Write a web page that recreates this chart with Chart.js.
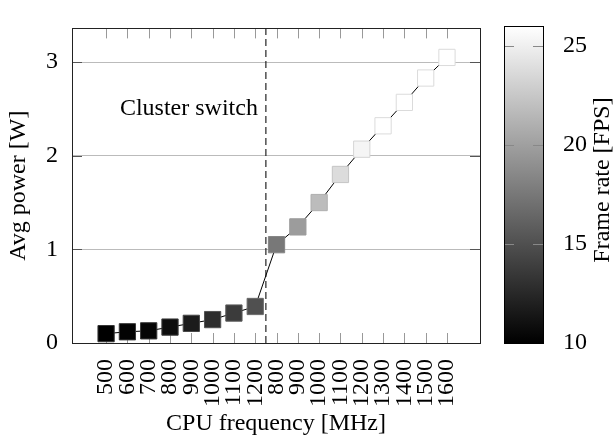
<!DOCTYPE html>
<html>
<head>
<meta charset="utf-8">
<script src="https://cdn.jsdelivr.net/npm/chart.js@4.4.0/dist/chart.umd.min.js"></script>
<style>
  html, body { margin: 0; padding: 0; background: #fff; }
  #wrap { position: relative; width: 616px; height: 441px; overflow: hidden; }
  #main { position: absolute; left: 0; top: 0; width: 500px; height: 441px; }
  #cbar { position: absolute; left: 490px; top: 0; width: 126px; height: 441px; }
</style>
</head>
<body>
<div id="wrap">
  <div id="main"><canvas id="power-chart"></canvas></div>
  <div id="cbar"><canvas id="fps-bar"></canvas></div>
</div>
<script>
// ─── DATA ────────────────────────────────────────────────────────────────────
const freqLabels = ["500", "600", "700", "800", "900", "1000", "1100", "1200",
                    "800", "900", "1000", "1100", "1200", "1300", "1400", "1500", "1600"];
const avgPower   = [0.10, 0.12, 0.13, 0.17, 0.21, 0.25, 0.32, 0.39,
                    1.05, 1.24, 1.50, 1.80, 2.07, 2.32, 2.57, 2.83, 3.05];
const frameRate  = [10.0, 10.2, 10.3, 10.8, 11.7, 12.8, 13.7, 15.0,
                    17.5, 19.8, 21.8, 23.8, 25.4, 26.0, 26.0, 26.0, 26.0];
const powerTicks = [0, 1, 2, 3];
const fpsTicks   = [10, 15, 20, 25];
const fpsMin = 10, fpsMax = 26;
const switchAt = 7.5;
const switchLabel = "Cluster switch";

const FONT = "'Liberation Serif', 'DejaVu Serif', serif";
const FSIZE = 24;

// ─── HELPERS ─────────────────────────────────────────────────────────────────
function grayFor(fps) {
    return Math.round(Math.max(0, Math.min(1, (fps - fpsMin) / (fpsMax - fpsMin))) * 255);
}
function fillFor(fps) { const g = grayFor(fps); return `rgb(${g},${g},${g})`; }
function edgeFor(fps) {
    const g = Math.round(grayFor(fps) * 0.65 + 153 * 0.35);
    return `rgb(${g},${g},${g})`;
}

// frame, inside ticks and annotation for the main plot
const framePlugin = {
    id: "frame",
    beforeDatasetsDraw(chart) {
        const { ctx, chartArea: a, scales: { x, y } } = chart;
        ctx.save();
        ctx.lineWidth = 1;
        // x ticks inside, bottom and top
        ctx.strokeStyle = "#999";
        freqLabels.forEach((_, i) => {
            const px = Math.round(x.getPixelForValue(i)) + 0.5;
            ctx.beginPath();
            ctx.moveTo(px, a.bottom); ctx.lineTo(px, a.bottom - 10);
            ctx.moveTo(px, a.top); ctx.lineTo(px, a.top + 10);
            ctx.stroke();
        });
        // y ticks inside, left and right
        ctx.strokeStyle = "#555";
        powerTicks.forEach(v => {
            const py = Math.round(y.getPixelForValue(v)) + 0.5;
            ctx.beginPath();
            ctx.moveTo(a.left, py); ctx.lineTo(a.left + 10, py);
            ctx.moveTo(a.right, py); ctx.lineTo(a.right - 10, py);
            ctx.stroke();
        });
        // box
        ctx.strokeStyle = "#222";
        ctx.strokeRect(Math.round(a.left) + 0.5, Math.round(a.top) + 0.5,
                       Math.round(a.right - a.left), Math.round(a.bottom - a.top));
        ctx.restore();
    },
    afterDatasetsDraw(chart) {
        const { ctx, scales: { x, y } } = chart;
        ctx.save();
        ctx.font = `${FSIZE}px ${FONT}`;
        ctx.fillStyle = "#000";
        ctx.textAlign = "right";
        ctx.textBaseline = "middle";
        ctx.fillText(switchLabel, x.getPixelForValue(switchAt) - 8, y.getPixelForValue(2.5));
        ctx.restore();
    }
};

// ─── MAIN CHART ──────────────────────────────────────────────────────────────
new Chart(document.getElementById("power-chart"), {
    type: "scatter",
    data: {
        datasets: [{
            data: avgPower.map((v, i) => ({ x: i, y: v })),
            showLine: true,
            borderColor: "#000",
            borderWidth: 1,
            pointStyle: "rect",
            pointRadius: 11.5,
            pointHoverRadius: 11.5,
            pointBackgroundColor: frameRate.map(fillFor),
            pointBorderColor: frameRate.map(edgeFor),
            pointBorderWidth: 1
        }, {
            data: [{ x: switchAt, y: 0 }, { x: switchAt, y: 3.36 }],
            showLine: true,
            borderColor: "#222",
            borderWidth: 1.2,
            borderDash: [7, 4],
            pointRadius: 0
        }]
    },
    options: {
        responsive: true,
        maintainAspectRatio: false,
        animation: false,
        layout: { padding: { top: 6, right: 20, left: 0, bottom: 0 } },
        plugins: { legend: { display: false }, tooltip: { enabled: false } },
        scales: {
            x: {
                type: "linear",
                min: -1.6,
                max: 17.55,
                afterBuildTicks: s => { s.ticks = freqLabels.map((_, i) => ({ value: i })); },
                afterFit: s => { s.height = 98; },
                grid: { display: false },
                border: { display: false },
                ticks: {
                    callback: v => freqLabels[v],
                    autoSkip: false,
                    maxRotation: 90,
                    minRotation: 90,
                    padding: 8,
                    color: "#000",
                    font: { family: FONT, size: FSIZE }
                },
                title: {
                    display: true,
                    text: "CPU frequency [MHz]",
                    color: "#000",
                    font: { family: FONT, size: FSIZE },
                    padding: { top: 0, bottom: 3 }
                }
            },
            y: {
                min: 0,
                max: 3.36,
                afterBuildTicks: s => { s.ticks = powerTicks.map(v => ({ value: v })); },
                afterFit: s => { s.width = 72; },
                grid: { color: "#bbb", drawTicks: false },
                border: { display: false },
                ticks: {
                    padding: 14,
                    color: "#000",
                    font: { family: FONT, size: FSIZE }
                },
                title: {
                    display: true,
                    text: "Avg power [W]",
                    color: "#000",
                    font: { family: FONT, size: FSIZE },
                    padding: { top: 4, bottom: 0 }
                }
            }
        }
    },
    plugins: [framePlugin]
});

// ─── COLOUR BAR ──────────────────────────────────────────────────────────────
const cbarPlugin = {
    id: "cbarDecor",
    afterDatasetsDraw(chart) {
        const { ctx, chartArea: a, scales: { y } } = chart;
        ctx.save();
        ctx.strokeStyle = "#888";
        ctx.lineWidth = 1;
        fpsTicks.forEach(v => {
            const py = Math.round(y.getPixelForValue(v)) + 0.5;
            ctx.beginPath();
            ctx.moveTo(a.left, py); ctx.lineTo(a.left + 10, py);
            ctx.moveTo(a.right, py); ctx.lineTo(a.right - 10, py);
            ctx.stroke();
        });
        ctx.strokeStyle = "#000";
        ctx.strokeRect(Math.round(a.left) + 0.5, Math.round(a.top) + 0.5,
                       Math.round(a.right - a.left), Math.round(a.bottom - a.top));
        ctx.font = `${FSIZE}px ${FONT}`;
        ctx.fillStyle = "#000";
        ctx.textAlign = "center";
        ctx.textBaseline = "middle";
        ctx.translate(113, 180);
        ctx.rotate(-Math.PI / 2);
        ctx.fillText("Frame rate [FPS]", 0, 0);
        ctx.restore();
    }
};

new Chart(document.getElementById("fps-bar"), {
    type: "bar",
    data: {
        labels: [""],
        datasets: [{
            data: [[fpsMin, fpsMax]],
            barPercentage: 1,
            categoryPercentage: 1,
            borderWidth: 0,
            backgroundColor: c => {
                const { chart } = c;
                if (!chart.chartArea) return "#888";
                const ys = chart.scales.y;
                const g = chart.ctx.createLinearGradient(0, ys.getPixelForValue(fpsMin), 0, ys.getPixelForValue(fpsMax));
                g.addColorStop(0, "#000");
                g.addColorStop(1, "#fff");
                return g;
            }
        }]
    },
    options: {
        responsive: true,
        maintainAspectRatio: false,
        animation: false,
        layout: { padding: { top: 6, left: 14, right: 0, bottom: 98 } },
        plugins: { legend: { display: false }, tooltip: { enabled: false } },
        scales: {
            x: { display: false },
            y: {
                position: "right",
                min: fpsMin,
                max: fpsMax,
                afterBuildTicks: s => { s.ticks = fpsTicks.map(v => ({ value: v })); },
                afterFit: s => { s.width = 73; },
                grid: { display: false },
                border: { display: false },
                ticks: {
                    padding: 12,
                    color: "#000",
                    font: { family: FONT, size: FSIZE }
                }
            }
        }
    },
    plugins: [cbarPlugin]
});
</script>
</body>
</html>
